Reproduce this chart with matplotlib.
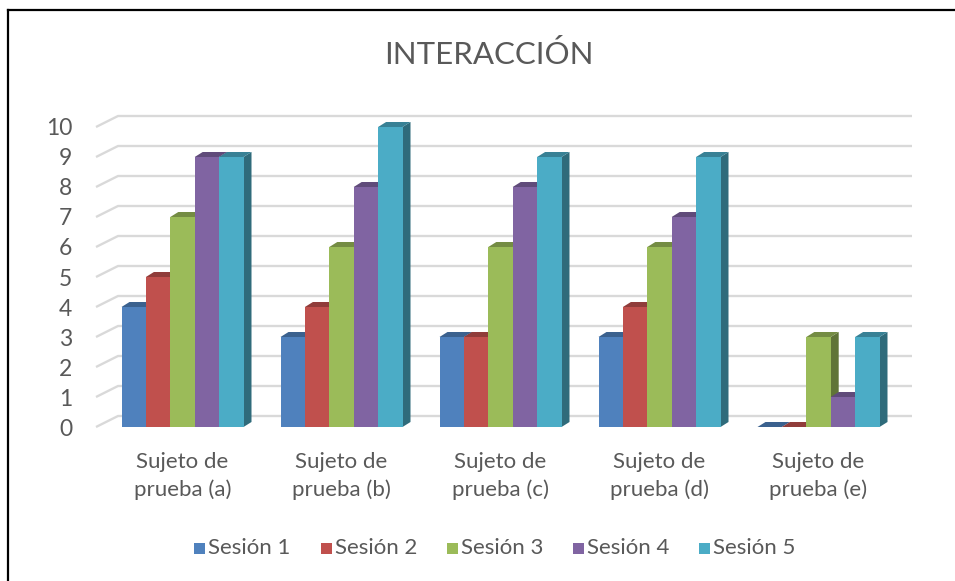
import numpy as np
import matplotlib
matplotlib.use("Agg")
from matplotlib import pyplot as plt
from matplotlib.patches import Polygon, Rectangle
from matplotlib.lines import Line2D
from matplotlib.colors import to_rgb

plt.rcParams["font.family"] = ["Lato", "DejaVu Sans"]

TITLE = "INTERACCIÓN"
SUBJECTS = ["Sujeto de\nprueba (a)", "Sujeto de\nprueba (b)", "Sujeto de\nprueba (c)",
            "Sujeto de\nprueba (d)", "Sujeto de\nprueba (e)"]
SESSIONS = ["Sesión 1", "Sesión 2", "Sesión 3", "Sesión 4", "Sesión 5"]
SESION_1 = [4, 3, 3, 3, 0]
SESION_2 = [5, 4, 3, 4, 0]
SESION_3 = [7, 6, 6, 6, 3]
SESION_4 = [9, 8, 8, 7, 1]
SESION_5 = [9, 10, 9, 9, 3]
COLORS = ["#4F81BD", "#C0504D", "#9BBB59", "#8064A2", "#4BACC6"]
TEXT_COLOR = "#595959"
GRID_COLOR = "#D9D9D9"

W, H = 955, 581
fig = plt.figure(figsize=(W / 100, H / 100), dpi=100)

# plot area in pixels: group spacing 159 px, 30 px per unit on the value axis
PX_X, PX_Y = 159.0, 30.0
left_px, right_px, base_px, top_px = 96, 912, 427, 127
x_lo = (left_px - 182.5) / PX_X
x_hi = (right_px - 182.5) / PX_X
ax = fig.add_axes([left_px / W, (H - base_px) / H, (right_px - left_px) / W, (base_px - top_px) / H])
ax.set_xlim(x_lo, x_hi)
ax.set_ylim(0, 10)
for s in ax.spines.values():
    s.set_visible(False)

# depth offsets (data units)
wall_dx, wall_dy = 22 / PX_X, 11 / PX_Y
side_dx, side_dy = 8 / PX_X, 5 / PX_Y
bar_w = 24.4 / PX_X


def shade(c, f):
    r, g, b = to_rgb(c)
    return (r * f, g * f, b * f)


# back-wall gridlines with the diagonal floor/wall edge on the left
for v in range(11):
    ax.plot([x_lo, x_lo + wall_dx, x_hi], [v, v + wall_dy, v + wall_dy],
            color=GRID_COLOR, lw=1.7, zorder=1, clip_on=False, solid_capstyle="butt")

series = [SESION_1, SESION_2, SESION_3, SESION_4, SESION_5]
z = 2
for i in range(len(SUBJECTS)):
    for j, vals in enumerate(series):
        v = vals[i]
        c = COLORS[j]
        xl = i + (j - 2.5) * bar_w
        xr = xl + bar_w
        side = Polygon([(xr, 0), (xr + side_dx, side_dy), (xr + side_dx, v + side_dy), (xr, v)],
                       closed=True, fc=shade(c, 0.62), ec="none", zorder=z, clip_on=False)
        front = Rectangle((xl, 0), bar_w, v, fc=c, ec="none", zorder=z + 1, clip_on=False)
        top = Polygon([(xl, v), (xl + side_dx, v + side_dy), (xr + side_dx, v + side_dy), (xr, v)],
                      closed=True, fc=shade(c, 0.75), ec="none", zorder=z + 2, clip_on=False)
        ax.add_patch(side)
        ax.add_patch(front)
        ax.add_patch(top)
        z += 3

ax.set_yticks(range(11))
ax.set_yticklabels([str(v) for v in range(11)], fontsize=16.5, color=TEXT_COLOR)
ax.set_xticks(range(len(SUBJECTS)))
ax.set_xticklabels(SUBJECTS, fontsize=16, color=TEXT_COLOR, linespacing=1.45)
ax.tick_params(axis="y", length=0, pad=17)
ax.tick_params(axis="x", length=0, pad=18)

fig.text(489 / W, 1 - 55 / H, TITLE, ha="center", va="center", fontsize=22.5, color=TEXT_COLOR)

# legend row
leg_x = [194, 321, 447, 573, 699]
leg_y = 548
for x, name, c in zip(leg_x, SESSIONS, COLORS):
    fig.patches.append(Rectangle((x / W, 1 - (leg_y + 5.5) / H), 11 / W, 11 / H,
                                 transform=fig.transFigure, fc=c, ec="none"))
    fig.text((x + 14) / W, 1 - leg_y / H, name, ha="left", va="center", fontsize=16, color=TEXT_COLOR)

# frame on the top and left edges
fig.lines.append(Line2D([8 / W, 8 / W], [0, 1 - 10 / H], transform=fig.transFigure, color="black", lw=1.6))
fig.lines.append(Line2D([8 / W, 1], [1 - 10 / H, 1 - 10 / H], transform=fig.transFigure, color="black", lw=1.6))

fig.savefig("out.png", dpi=100, facecolor="white")
